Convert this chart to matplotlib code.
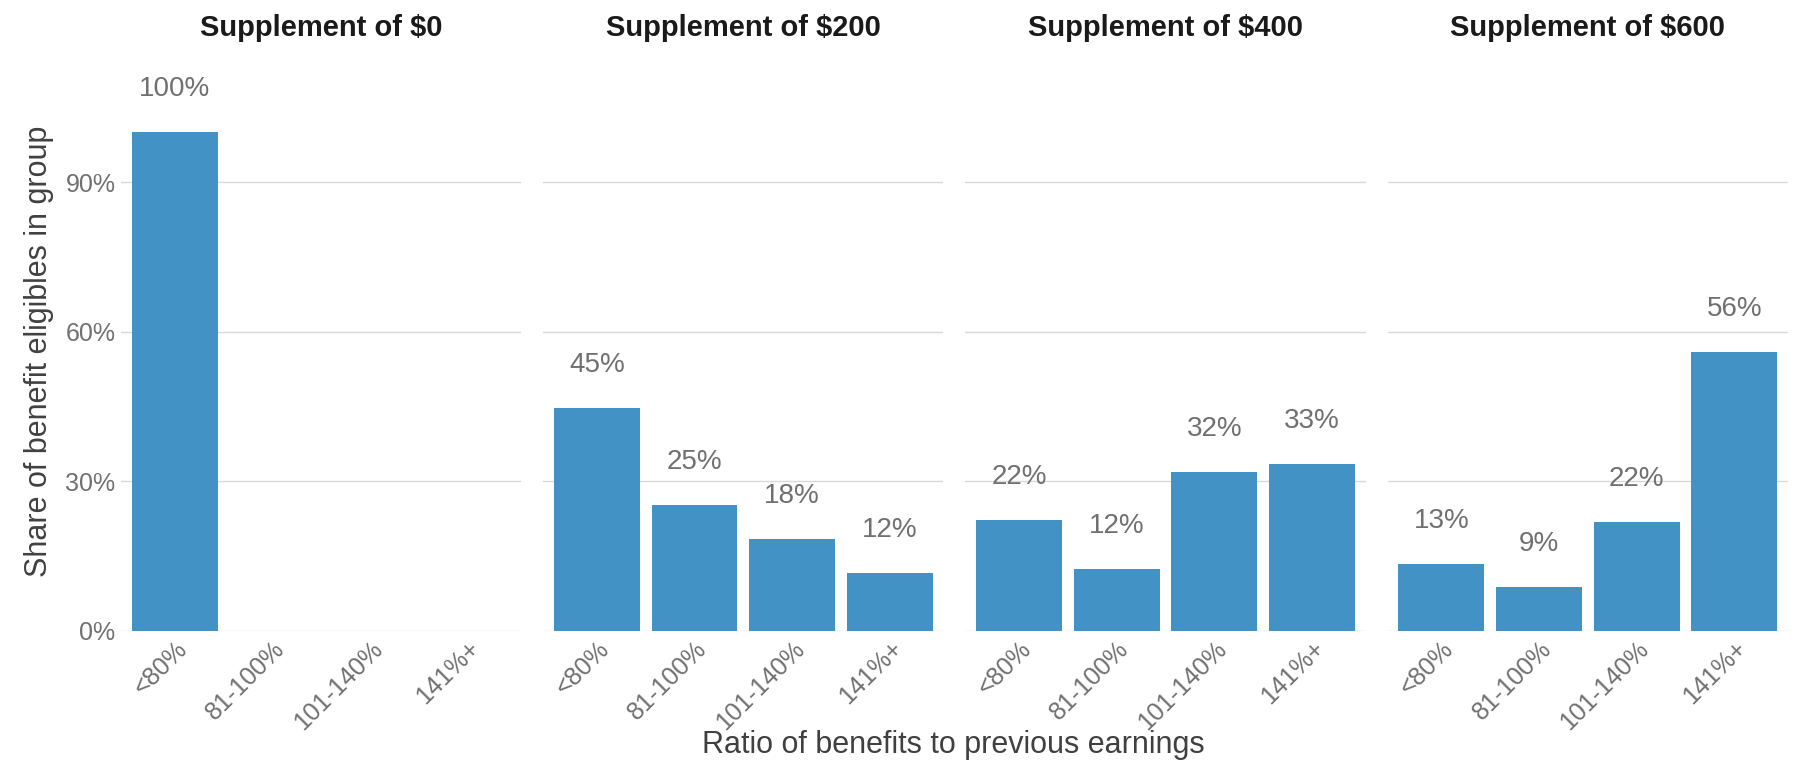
import matplotlib.pyplot as plt
import numpy as np

categories = ["<80%", "81-100%", "101-140%", "141%+"]
panels = ["Supplement of $0", "Supplement of $200", "Supplement of $400", "Supplement of $600"]
shares = [
    [100.0, 0.0, 0.0, 0.0],
    [44.8, 25.2, 18.5, 11.7],
    [22.2, 12.4, 31.9, 33.5],
    [13.4, 8.9, 21.9, 55.9],
]
labels = [
    ["100%", "", "", ""],
    ["45%", "25%", "18%", "12%"],
    ["22%", "12%", "32%", "33%"],
    ["13%", "9%", "22%", "56%"],
]

plt.rcParams["font.family"] = ["Liberation Sans", "DejaVu Sans"]
fig, axes = plt.subplots(1, 4, figsize=(18.06, 7.62), dpi=100, sharey=True)
fig.subplots_adjust(left=0.067, right=0.99, bottom=0.172, top=0.905, wspace=0.055)

x = np.arange(len(categories))
for ax, title, vals, labs in zip(axes, panels, shares, labels):
    ax.bar(x, vals, width=0.88, color="#4292c6", zorder=2)
    for xi, v, lab in zip(x, vals, labs):
        if lab:
            ax.text(xi, v + 6, lab, ha="center", va="bottom", fontsize=20, color="#707070")
    ax.set_title(title, fontsize=21, fontweight="bold", color="#1a1a1a", pad=26)
    ax.set_ylim(0, 112)
    ax.set_xlim(-0.55, 3.55)
    ax.set_yticks([0, 30, 60, 90])
    ax.set_yticklabels(["0%", "30%", "60%", "90%"])
    ax.yaxis.grid(True, color="#d9d9d9", linewidth=1, zorder=0)
    ax.set_xticks(x)
    ax.set_xticklabels(categories, rotation=45, ha="right", rotation_mode="anchor")
    ax.tick_params(length=0, labelsize=18, labelcolor="#707070", pad=4)
    for s in ax.spines.values():
        s.set_visible(False)

axes[0].set_ylabel("Share of benefit eligibles in group", fontsize=22, color="#404040", labelpad=8)
fig.text(0.528, 0.012, "Ratio of benefits to previous earnings", ha="center", fontsize=22, color="#404040")
fig.savefig("out.png")
